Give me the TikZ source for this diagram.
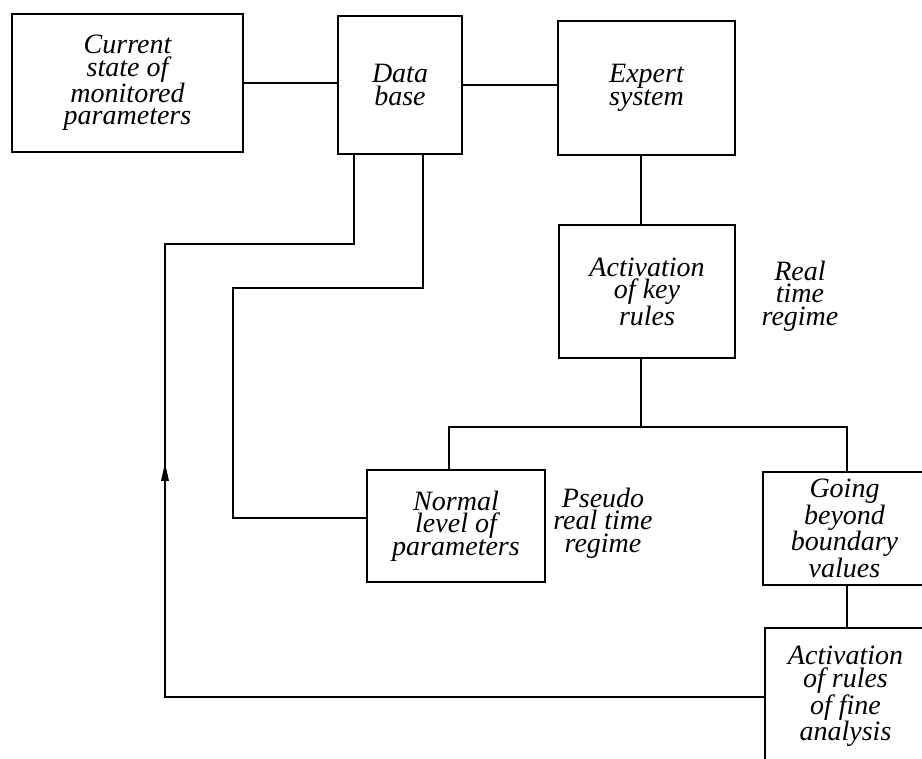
\documentclass[tikz,border=0pt]{standalone}
\usepackage{fontspec}
\setmainfont{Liberation Serif}
\begin{document}
\begin{tikzpicture}[x=1pt,y=-1pt,
  box/.style={draw, line width=2pt, inner sep=0pt, align=center,
    font=\fontsize{28}{22.5}\selectfont\itshape},
  lbl/.style={inner sep=0pt, align=center,
    font=\fontsize{28}{22.5}\selectfont\itshape},
  conn/.style={line width=2pt}]
\useasboundingbox (0,0) rectangle (922,759);
\clip (0,0) rectangle (922,759);
\node[box, minimum width=231pt, minimum height=138pt] (A) at (127.5,83) {Current\\state of\\monitored\\parameters};
\node[box, minimum width=124pt, minimum height=138pt] (B) at (400,85) {Data\\base};
\node[box, minimum width=177pt, minimum height=134pt] (C) at (646.5,88) {Expert\\system};
\node[box, minimum width=176pt, minimum height=133pt] (D) at (647,291.5) {Activation\\of key\\rules};
\node[box, minimum width=178pt, minimum height=112pt] (E) at (456,526) {Normal\\level of\\parameters};
\node[box, minimum width=163pt, minimum height=113pt] (F) at (844.5,528.5) {Going\\beyond\\boundary\\values};
\node[box, minimum width=161pt, minimum height=137pt] (G) at (845.5,696.5) {Activation\\of rules\\of fine\\analysis};
\node[lbl] (RT) at (800,296) {Real\\time\\regime};
\node[lbl] (PRT) at (603,523) {Pseudo\\real time\\regime};
\coordinate (split) at (641,427);
\coordinate (L1) at (165,244);
\coordinate (L2) at (233,288);
\draw[conn] (A.east) -- (A.east -| B.west);
\draw[conn] (B.east) -- (B.east -| C.west);
\draw[conn] ([xshift=-6pt]C.south) -- ([xshift=-6pt]C.south |- D.north);
\draw[conn] ([xshift=-6pt]D.south) -- (split);
\draw[conn] (split) -| ([xshift=-7pt]E.north);
\draw[conn] (split) -| ([xshift=2.5pt]F.north);
\draw[conn] ([xshift=2.5pt]F.south) -- ([xshift=2.5pt]F.south |- G.north);
\draw[conn] (G.west) -| (L1) -| ([xshift=-46pt]B.south);
\draw[conn] ([yshift=8pt]E.west) -| (L2) -| ([xshift=23pt]B.south);
\fill (165,463) -- (161,481) -- (169,481) -- cycle;
\end{tikzpicture}
\end{document}
